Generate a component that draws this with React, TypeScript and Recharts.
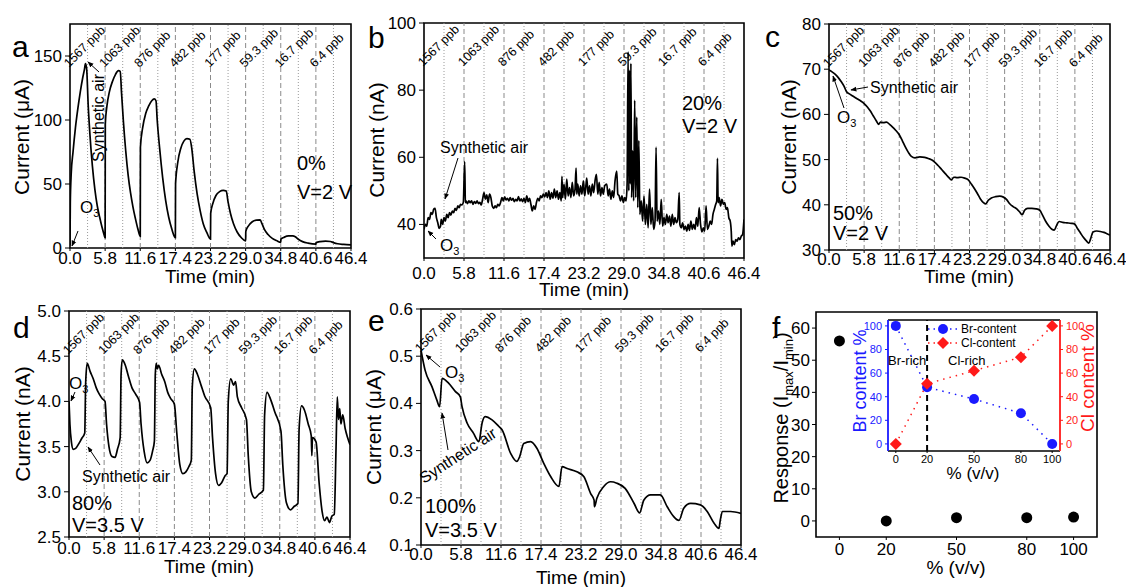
import React from 'react'
import {
  LineChart, Line, XAxis, YAxis, ReferenceLine, ReferenceArea,
  ScatterChart, Scatter,
} from 'recharts'

const FONT = '"Liberation Sans", Arial, sans-serif'

// time axis shared by panels a-e
const timeTicks = [0, 5.8, 11.6, 17.4, 23.2, 29.0, 34.8, 40.6, 46.4]
const ozoneOn = [0, 5.8, 11.6, 17.4, 23.2, 29.0, 34.8, 40.6]
const ozoneOff = [2.9, 8.7, 14.5, 20.3, 26.1, 31.9, 37.7, 43.5]
const ppbLabels = ['1567 ppb', '1063 ppb', '876 ppb', '482 ppb', '177 ppb', '59.3 ppb', '16.7 ppb', '6.4 ppb']

// panel a: 0 %, current in uA
const panelA: [number, number][] = [
  [0, 2], [0.05, 35], [0.2, 58], [0.5, 75], [0.9, 94], [1.3, 109], [1.7, 122], [2.1, 133], [2.4, 140], [2.55, 144], [2.75, 140],
  [3.0, 112], [3.3, 88], [3.7, 64], [4.1, 46], [4.5, 33], [4.9, 24], [5.3, 16], [5.65, 10], [5.8, 8],
  [5.83, 97], [6.1, 111], [6.5, 122], [7.0, 130], [7.5, 135.5], [8.0, 138.5], [8.3, 138], [8.5, 122], [8.8, 100], [9.2, 76],
  [9.6, 57], [10.0, 43], [10.4, 32], [10.8, 23], [11.2, 15], [11.6, 9],
  [11.63, 79], [12.0, 94], [12.5, 105], [13.0, 111], [13.5, 115], [13.9, 116.5], [14.2, 115], [14.4, 100], [14.8, 78],
  [15.3, 55], [15.8, 37], [16.3, 24], [16.8, 15], [17.4, 8],
  [17.43, 50], [17.8, 67], [18.3, 78], [18.8, 83.5], [19.3, 85.5], [19.8, 85], [20.1, 78], [20.5, 60], [21.0, 42],
  [21.5, 29], [22.0, 19], [22.6, 12], [23.2, 7],
  [23.23, 27], [23.6, 35], [24.1, 41], [24.7, 44], [25.3, 45], [25.8, 44.5], [26.1, 36], [26.5, 27], [27.0, 19],
  [27.6, 12.5], [28.3, 8], [29.0, 5.5],
  [29.03, 13], [29.5, 17.5], [30.1, 20.5], [30.8, 21.8], [31.4, 22], [31.7, 19], [32.1, 14.5], [32.7, 10.5], [33.4, 7.5],
  [34.1, 5.8], [34.8, 4.5],
  [34.83, 7], [35.4, 8.5], [36.1, 9.4], [36.8, 9.5], [37.2, 8.8], [37.7, 6.8], [38.4, 5], [39.3, 3.8], [40.6, 3],
  [40.63, 4.2], [41.3, 5], [42.2, 5.3], [43.0, 5.1], [43.5, 4.2], [44.2, 3.3], [45.2, 2.8], [46.4, 2.4],
]

// panel b: 20 %, current in nA (noisy)
const panelB: [number, number][] = [
  [0, 38.5], [0.2, 40], [0.4, 39.5], [0.6, 42], [0.8, 41.5], [1.0, 43.5], [1.2, 43], [1.4, 44.5], [1.6, 44.8], [1.8, 42],
  [2.0, 40.5], [2.2, 38.8], [2.4, 39.5], [2.5, 41.5], [2.7, 40], [2.9, 42], [3.1, 41], [3.3, 43], [3.5, 42], [3.7, 43.5],
  [3.9, 42.8], [4.1, 44], [4.3, 43.5], [4.5, 44.8], [4.7, 44.2], [4.9, 45.5], [5.1, 45], [5.3, 46], [5.5, 45.8], [5.7, 46.5],
  [5.9, 58.7], [6.0, 46.5], [6.1, 47], [6.3, 46.2], [6.5, 47], [6.7, 46.5], [6.9, 47], [7.1, 46], [7.3, 46.8], [7.5, 46.3],
  [7.7, 47], [7.9, 46.2], [8.1, 46.6], [8.3, 45.8], [8.5, 47.5], [8.7, 49.5], [8.9, 47.5], [9.1, 48.8], [9.3, 46.5], [9.5, 49],
  [9.7, 48], [9.9, 45.5], [10.1, 44.8], [10.3, 45.5], [10.5, 45], [10.7, 46], [10.9, 45.5], [11.1, 46.5], [11.3, 48], [11.5, 47],
  [11.7, 48.2], [11.9, 47.3], [12.1, 47.8], [12.3, 47], [12.5, 48], [12.7, 47.2], [12.9, 47.8], [13.1, 46.8], [13.3, 47.5],
  [13.5, 47], [13.7, 48.3], [13.9, 47], [14.1, 47.6], [14.3, 46.8], [14.5, 47.8], [14.7, 46.5], [14.9, 48.5], [15.1, 46.8],
  [15.3, 47.8], [15.5, 46], [15.7, 44], [15.9, 45.5], [16.1, 44.5], [16.3, 46.5], [16.5, 47.8], [16.7, 47], [16.9, 48.5],
  [17.1, 48], [17.3, 49], [17.5, 48.2], [17.7, 49.5], [17.9, 48], [18.1, 50], [18.3, 47.5], [18.5, 49.5], [18.7, 47.8],
  [18.9, 50.5], [19.1, 48], [19.3, 50], [19.5, 47.5], [19.7, 49.5], [19.9, 47], [20.0, 54.3], [20.1, 48], [20.3, 52],
  [20.5, 47.5], [20.7, 53.5], [20.9, 48.5], [21.1, 51], [21.3, 48], [21.5, 52.5], [21.7, 48.5], [21.9, 50.5], [22.05, 56.8],
  [22.15, 49], [22.3, 52], [22.5, 48.5], [22.7, 51.5], [22.9, 49], [23.1, 53], [23.3, 48.5], [23.5, 52], [23.6, 53.8],
  [23.8, 49], [24.0, 51.5], [24.2, 48.5], [24.4, 52], [24.6, 49.5], [24.8, 53], [25.0, 54.9], [25.2, 49], [25.4, 52.5],
  [25.6, 48.5], [25.8, 51], [26.0, 49], [26.2, 51.5], [26.5, 52], [26.7, 48.5], [26.9, 50.5], [27.1, 47.5], [27.3, 50],
  [27.5, 48], [27.7, 53], [27.95, 55.9], [28.1, 49], [28.3, 48.5], [28.5, 47], [28.7, 48.5], [28.9, 46.5], [29.1, 48],
  [29.3, 47], [29.45, 52], [29.6, 91.4], [29.7, 50], [29.8, 86], [29.9, 52], [30.0, 88], [30.1, 48], [30.25, 62],
  [30.4, 47], [30.55, 77], [30.7, 48], [30.85, 72], [31.0, 45], [31.15, 65], [31.3, 43], [31.5, 47], [31.7, 41],
  [31.9, 48.5], [32.1, 40], [32.3, 46], [32.5, 39], [32.7, 50.5], [32.9, 40], [33.1, 45], [33.3, 38.5], [33.5, 41],
  [33.65, 63], [33.8, 41], [34.0, 44], [34.2, 40], [34.4, 47.5], [34.6, 39.5], [34.8, 42], [35.0, 40], [35.2, 43],
  [35.4, 40.5], [35.6, 42.5], [35.8, 39.5], [36.0, 43], [36.2, 40], [36.4, 42], [36.6, 40.5], [36.8, 41.5], [37.0, 49.5],
  [37.1, 40], [37.3, 39], [37.5, 40.5], [37.7, 38.5], [37.9, 39.5], [38.1, 38], [38.3, 40], [38.5, 38.2], [38.7, 41],
  [38.9, 38.5], [39.1, 40], [39.3, 38.5], [39.5, 42], [39.7, 39.5], [39.9, 45], [40.1, 40], [40.3, 37.8], [40.5, 39],
  [40.7, 38], [40.9, 45.5], [41.1, 38.5], [41.3, 39.5], [41.5, 41], [41.7, 40], [41.9, 43], [42.1, 44.5], [42.3, 46],
  [42.45, 47], [42.55, 59.7], [42.65, 46.5], [42.8, 48], [43.0, 45.5], [43.2, 47.5], [43.4, 46], [43.6, 46.5], [43.8, 44.5],
  [44.0, 45], [44.2, 42], [44.4, 41], [44.55, 38], [44.65, 33.5], [44.8, 35], [45.0, 34], [45.2, 35.5], [45.4, 35],
  [45.6, 36], [45.8, 35.5], [46.0, 36.5], [46.2, 37], [46.4, 41.5],
]

// panel c: 50 %, current in nA
const panelC: [number, number][] = [
  [0, 69.8], [0.5, 69.4], [1.0, 68.9], [1.5, 68.2], [2.0, 67.3], [2.5, 66.2], [2.9, 65], [3.3, 64.6], [4.0, 64], [4.7, 63.4],
  [5.3, 62.9], [5.8, 62.4], [6.3, 61.7], [6.8, 60.8], [7.3, 59.7], [7.8, 58.6], [8.2, 57.8], [8.5, 58.3], [9.0, 58.2],
  [9.5, 58.3], [10.0, 57.8], [10.5, 57.2], [11.0, 56.5], [11.6, 55.5], [12.1, 54.2], [12.6, 52.8], [13.1, 51.6], [13.6, 50.7],
  [14.2, 50.4], [15.0, 50.6], [15.8, 50.5], [16.5, 50.2], [17.0, 49.9], [17.4, 49.5], [18.0, 48.7], [18.6, 47.8], [19.2, 46.9],
  [19.8, 46.0], [20.2, 45.5], [20.6, 46.1], [21.2, 46.0], [21.8, 46.1], [22.4, 45.9], [23.0, 45.5], [23.5, 44.6], [24.0, 43.6],
  [24.5, 42.5], [25.0, 41.3], [25.5, 40.5], [25.9, 40.2], [26.3, 41], [26.8, 41.5], [27.5, 41.8], [28.2, 41.9], [28.8, 41.7],
  [29.3, 41.2], [29.8, 40.3], [30.4, 39.6], [31.0, 39.1], [31.5, 38.4], [31.9, 37.8], [32.3, 38.8], [32.8, 39.2], [33.5, 39.2],
  [34.2, 39.1], [34.8, 38.8], [35.3, 37.6], [35.8, 36.3], [36.3, 35.3], [36.8, 34.6], [37.2, 34.4], [37.6, 35.5], [38.0, 36.3],
  [38.6, 36.1], [39.3, 36.0], [40.0, 35.9], [40.6, 35.7], [41.0, 34.8], [41.5, 33.8], [42.0, 32.8], [42.5, 32], [42.9, 31.5],
  [43.2, 32.5], [43.6, 34], [44.2, 34.2], [44.8, 34.1], [45.4, 33.9], [45.9, 33.6], [46.4, 33.3],
]

// panel d: 80 %, current in nA
const panelD: [number, number][] = [
  [0, 4.0], [0.15, 3.75], [0.4, 3.55], [0.7, 3.47], [1.1, 3.48], [1.6, 3.53], [2.1, 3.59], [2.6, 3.65], [2.75, 4.2], [3.0, 4.42],
  [3.5, 4.33], [4.0, 4.25], [4.5, 4.15], [5.0, 4.08], [5.5, 4.03], [5.95, 4.0], [6.2, 3.75], [6.6, 3.5], [7.1, 3.39],
  [7.6, 3.38], [8.0, 3.47], [8.45, 3.6], [8.6, 4.3], [8.8, 4.46], [9.3, 4.4], [9.8, 4.28], [10.4, 4.15], [11.0, 4.08],
  [11.65, 3.99], [11.9, 3.75], [12.4, 3.45], [12.9, 3.32], [13.4, 3.35], [13.8, 3.45], [14.1, 3.56], [14.25, 4.3],
  [14.4, 4.42], [14.6, 4.36], [14.8, 4.4], [15.3, 4.3], [15.8, 4.22], [16.3, 4.1], [16.8, 4.03], [17.4, 3.97], [17.8, 3.65],
  [18.3, 3.3], [18.8, 3.2], [19.3, 3.22], [19.8, 3.28], [20.2, 3.35], [20.35, 4.15], [20.7, 4.36], [21.2, 4.3], [21.8, 4.18],
  [22.4, 4.06], [23.4, 3.93], [23.7, 3.6], [24.2, 3.2], [24.7, 3.07], [25.2, 3.1], [25.8, 3.18], [26.1, 3.2], [26.3, 4.0],
  [26.7, 4.25], [27.2, 4.18], [27.5, 4.22], [27.8, 4.05], [28.5, 3.93], [29.3, 3.8], [29.6, 3.4], [30.1, 3.0], [30.7, 2.93],
  [31.3, 2.97], [32.1, 3.02], [32.3, 3.85], [32.7, 4.1], [33.3, 4.02], [34.0, 3.88], [35.0, 3.67], [35.3, 3.3], [35.9, 2.88],
  [36.6, 2.8], [37.2, 2.84], [37.8, 2.87], [38.0, 3.7], [38.4, 3.95], [38.9, 3.9], [39.5, 3.75], [40.0, 3.62], [40.1, 3.4],
  [40.2, 3.6], [40.8, 3.55], [41.3, 3.1], [41.8, 2.78], [42.2, 2.68], [42.6, 2.72], [43.0, 2.66], [43.4, 2.73], [43.8, 2.75],
  [44.1, 3.5], [44.3, 4.05], [44.5, 3.8], [44.7, 3.92], [44.9, 3.75], [45.2, 3.85], [45.6, 3.7], [46.0, 3.6], [46.4, 3.52],
]

// panel e: 100 %, current in uA
const panelE: [number, number][] = [
  [0, 0.513], [0.6, 0.47], [1.6, 0.435], [2.3, 0.407], [2.7, 0.393], [3.05, 0.453], [4.0, 0.443], [5.0, 0.425], [5.7, 0.414],
  [5.95, 0.393], [6.7, 0.358], [7.6, 0.337], [8.4, 0.319], [8.85, 0.358], [9.3, 0.372], [10.3, 0.365], [11.3, 0.351],
  [11.75, 0.344], [13.0, 0.294], [13.9, 0.277], [14.3, 0.287], [14.9, 0.315], [15.9, 0.319], [16.8, 0.305], [17.8, 0.273],
  [18.8, 0.245], [20.0, 0.224], [20.45, 0.266], [21.2, 0.262], [22.6, 0.255], [23.6, 0.245], [24.6, 0.209], [25.1, 0.195],
  [25.15, 0.181], [25.5, 0.199], [26.5, 0.224], [27.5, 0.234], [28.4, 0.231], [29.6, 0.22], [30.9, 0.188], [31.7, 0.168],
  [32.3, 0.195], [33.3, 0.206], [34.7, 0.206], [35.7, 0.181], [36.65, 0.16], [37.4, 0.152], [38.1, 0.178], [39.1, 0.188],
  [40.5, 0.185], [41.5, 0.171], [42.5, 0.146], [43.2, 0.135], [43.4, 0.153], [43.7, 0.171], [44.9, 0.171], [46.4, 0.167],
]

const aTicks = [0, 50, 100, 150]
const bTicks = [40, 60, 80, 100]
const cTicks = [30, 40, 50, 60, 70, 80]
const dTicks = [2.5, 3.0, 3.5, 4.0, 4.5, 5.0]
const eTicks = [0.1, 0.2, 0.3, 0.4, 0.5, 0.6]

// panel f
const fCategories = ['0', '20', '50', '80', '100']
const fSlots = [0, 1, 2.5, 4, 5]
const fResponse = [56, 0, 1, 1, 1.2]
const fTicks = [0, 10, 20, 30, 40, 50, 60]

// inset of f
const insetX = [0, 20, 50, 80, 100]
const brContent = [100, 48, 38, 26, 0]
const clContent = [0, 51, 62, 73.5, 100]
const insetTicks = [0, 20, 40, 60, 80, 100]

const tickStyle = { fontSize: 17, fill: '#000', fontFamily: FONT }
const TOP = 10
const T_MAX = 46.4

// plot boxes of panels a-e (page pixels)
const timeBoxes = [
  { left: 70, top: 24, w: 281, h: 224 },
  { left: 424, top: 23, w: 320, h: 235 },
  { left: 829, top: 24, w: 281, h: 226 },
  { left: 69, top: 311, w: 281, h: 226 },
  { left: 421, top: 309, w: 320, h: 236 },
]

interface TimePanelProps {
  points: [number, number][]
  box: { left: number; top: number; w: number; h: number }
  yDomain: [number, number]
  yTicks: number[]
  digits: number
  xGap: number
}

function TimePanel({ points, box, yDomain, yTicks, digits, xGap }: TimePanelProps) {
  const { left, top, w, h } = box
  const data = points.map(([t, v]) => ({ t, v }))
  return (
    <div style={{ position: 'absolute', left: left - 60, top: top - TOP }}>
      <LineChart width={w + 85} height={h + 50} data={data} margin={{ top: TOP, right: 25, bottom: 0, left: 0 }}>
        <XAxis
          type="number" dataKey="t" domain={[0, T_MAX]} ticks={timeTicks} interval={0} allowDataOverflow
          tickFormatter={(v: number) => v.toFixed(1)} tick={tickStyle} tickSize={3} tickMargin={Math.max(xGap - 3, 0)}
          axisLine={false} height={40} tickLine={{ stroke: '#000' }}
        />
        <YAxis
          type="number" domain={yDomain} ticks={yTicks} interval={0} allowDataOverflow width={60}
          tickFormatter={(v: number) => v.toFixed(digits)} tick={tickStyle} tickSize={5} tickMargin={3}
          axisLine={false} tickLine={{ stroke: '#000' }}
        />
        <YAxis
          yAxisId="mirror" orientation="right" mirror type="number" domain={yDomain} ticks={yTicks} interval={0}
          allowDataOverflow width={0} tickSize={5} tickFormatter={() => ''} axisLine={false} tickLine={{ stroke: '#000' }}
        />
        {ozoneOff.map((m) => (
          <ReferenceLine key={`off-${m}`} x={m} stroke="#9a9a9a" strokeDasharray="1 2" strokeWidth={1} />
        ))}
        {ozoneOn.filter((m) => m > 0).map((m) => (
          <ReferenceLine key={`on-${m}`} x={m} stroke="#8a8a8a" strokeDasharray="5 3" strokeWidth={1} />
        ))}
        <Line type="monotoneX" dataKey="v" stroke="#000" strokeWidth={1.7} dot={false} isAnimationActive={false} />
        <ReferenceArea x1={0} x2={T_MAX} y1={yDomain[0]} y2={yDomain[1]} fill="none" stroke="#000" strokeWidth={1.6} ifOverflow="visible" />
      </LineChart>
    </div>
  )
}

function PanelF() {
  const data = fSlots.map((pos, i) => ({ pos, r: fResponse[i] }))
  return (
    <div style={{ position: 'absolute', left: 816 - 60, top: 312 - TOP }}>
      <ScatterChart width={281 + 80} height={225 + 50} margin={{ top: TOP, right: 20, bottom: 0, left: 0 }}>
        <XAxis
          type="number" dataKey="pos" domain={[-0.5, 5.5]} ticks={fSlots} interval={0} allowDataOverflow
          tickFormatter={(v: number) => fCategories[fSlots.indexOf(v)] ?? ''} tick={tickStyle}
          tickSize={3} tickMargin={3} axisLine={false} height={40} tickLine={{ stroke: '#000' }}
        />
        <YAxis
          type="number" dataKey="r" domain={[-5, 65]} ticks={fTicks} interval={0} allowDataOverflow width={60}
          tick={tickStyle} tickSize={4} tickMargin={2} axisLine={false} tickLine={{ stroke: '#000' }}
        />
        <YAxis
          yAxisId="mirror" orientation="right" mirror type="number" domain={[-5, 65]} ticks={fTicks} interval={0}
          allowDataOverflow width={0} tickSize={5} tickFormatter={() => ''} axisLine={false} tickLine={{ stroke: '#000' }}
        />
        <Scatter data={data} fill="#000" isAnimationActive={false}
          shape={(p: any) => <circle cx={p.cx} cy={p.cy} r={5.5} fill="#000" />} />
        <ReferenceArea x1={-0.5} x2={5.5} y1={-5} y2={65} fill="none" stroke="#000" strokeWidth={1.6} ifOverflow="visible" />
      </ScatterChart>
    </div>
  )
}

function Diamond(props: any) {
  const { cx, cy, index } = props
  if (cx == null || cy == null) return <g key={index} />
  const s = 6
  return <path key={index} d={`M${cx},${cy - s} L${cx + s},${cy} L${cx},${cy + s} L${cx - s},${cy} Z`} fill="#ff1a1a" />
}

function Inset() {
  const data = insetX.map((x, i) => ({ x, br: brContent[i], cl: clContent[i] }))
  const small = { fontSize: 11, fontFamily: FONT }
  return (
    <div style={{ position: 'absolute', left: 888 - 30, top: 320 - 6 }}>
      <LineChart width={232} height={157} data={data} margin={{ top: 6, right: 0, bottom: 0, left: 0 }}>
        <XAxis
          type="number" dataKey="x" domain={[-5, 105]} ticks={insetX} interval={0} allowDataOverflow height={20}
          tick={{ ...small, fill: '#000' }} tickSize={2} tickMargin={2}
          axisLine={{ stroke: '#000', strokeWidth: 1.5 }} tickLine={{ stroke: '#000' }}
        />
        <YAxis
          yAxisId="br" type="number" domain={[-6, 105]} ticks={insetTicks} interval={0} allowDataOverflow width={30}
          tick={{ ...small, fill: '#1a1aff' }} tickSize={3} tickMargin={3}
          axisLine={{ stroke: '#1a1aff', strokeWidth: 1.8 }} tickLine={{ stroke: '#1a1aff' }}
        />
        <YAxis
          yAxisId="cl" orientation="right" type="number" domain={[-6, 105]} ticks={insetTicks} interval={0}
          allowDataOverflow width={30} tick={{ ...small, fill: '#ff1a1a' }} tickSize={3} tickMargin={3}
          axisLine={{ stroke: '#ff1a1a', strokeWidth: 1.8 }} tickLine={{ stroke: '#ff1a1a' }}
        />
        <ReferenceLine yAxisId="br" y={105} stroke="#000" strokeWidth={1.5} ifOverflow="visible" />
        <ReferenceLine yAxisId="br" x={20} stroke="#000" strokeWidth={2} strokeDasharray="6 4" />
        <Line yAxisId="br" type="linear" dataKey="br" stroke="#1a1aff" strokeWidth={1.5} strokeDasharray="1.5 5"
          dot={{ r: 5, fill: '#1a1aff', stroke: 'none' }} isAnimationActive={false} />
        <Line yAxisId="cl" type="linear" dataKey="cl" stroke="#ff1a1a" strokeWidth={1.5} strokeDasharray="1.5 5"
          dot={Diamond} isAnimationActive={false} />
      </LineChart>
    </div>
  )
}

function O3({ x, y }: { x: number; y: number }) {
  return (
    <text x={x} y={y} fontSize={17} fontFamily={FONT}>
      O<tspan fontSize={11} dy={4}>3</tspan>
    </text>
  )
}

function Arrow({ x1, y1, x2, y2 }: { x1: number; y1: number; x2: number; y2: number }) {
  return <line x1={x1} y1={y1} x2={x2} y2={y2} stroke="#000" strokeWidth={1} markerEnd="url(#arrowHead)" />
}

function YTitle({ x, y, children, size = 21, color = '#000' }: any) {
  return (
    <text x={x} y={y} transform={`rotate(-90 ${x} ${y})`} textAnchor="middle" fontSize={size} fontFamily={FONT} fill={color}>
      {children}
    </text>
  )
}

function XTitle({ x, y, children, size = 19 }: any) {
  return (
    <text x={x} y={y} textAnchor="middle" fontSize={size} fontFamily={FONT} fill="#000">
      {children}
    </text>
  )
}

// concentration labels written at 45 degrees above each ozone pulse
function PpbLabels() {
  return (
    <g>
      {timeBoxes.map((b, p) =>
        ozoneOn.map((t, i) => {
          const x = b.left + (t / T_MAX) * b.w - 1
          const y = b.top + 44
          return (
            <text key={`${p}-${i}`} x={x} y={y} transform={`rotate(-45 ${x} ${y})`} fontSize={12.5} fontFamily={FONT} fill="#000">
              {ppbLabels[i]}
            </text>
          )
        })
      )}
    </g>
  )
}

function Overlay() {
  const letter = { fontSize: 30, fontFamily: FONT, fill: '#000' }
  const note = { fontSize: 16, fontFamily: FONT, fill: '#000' }
  const big = { fontSize: 20, fontFamily: FONT, fill: '#000' }
  return (
    <svg width={1126} height={587} style={{ position: 'absolute', left: 0, top: 0, pointerEvents: 'none' }}>
      <defs>
        <marker id="arrowHead" viewBox="0 0 10 10" refX="9" refY="5" markerWidth="6" markerHeight="6" orient="auto">
          <path d="M0,1 L10,5 L0,9 z" fill="#000" />
        </marker>
      </defs>

      <PpbLabels />

      <text x={12} y={57} {...letter}>a</text>
      <text x={368} y={48} {...letter}>b</text>
      <text x={765} y={47} {...letter}>c</text>
      <text x={13} y={338} {...letter}>d</text>
      <text x={368} y={331} {...letter}>e</text>
      <text x={772} y={338} {...letter}>f</text>

      <YTitle x={29} y={137}>Current (μA)</YTitle>
      <YTitle x={384} y={140}>Current (nA)</YTitle>
      <YTitle x={796} y={137}>Current (nA)</YTitle>
      <YTitle x={30} y={424}>Current (nA)</YTitle>
      <YTitle x={381} y={427}>Current (μA)</YTitle>
      <text x={788} y={418} transform="rotate(-90 788 418)" textAnchor="middle" fontSize={20} fontFamily={FONT}>
        Response (I<tspan fontSize={13} dy={5}>max</tspan><tspan dy={-5}>/I</tspan><tspan fontSize={13} dy={5}>min</tspan><tspan dy={-5}>)</tspan>
      </text>

      <XTitle x={210} y={283}>Time (min)</XTitle>
      <XTitle x={584} y={296}>Time (min)</XTitle>
      <XTitle x={969} y={283}>Time (min)</XTitle>
      <XTitle x={209} y={573}>Time (min)</XTitle>
      <XTitle x={581} y={584}>Time (min)</XTitle>
      <XTitle x={956} y={574}>% (v/v)</XTitle>

      {/* panel a notes */}
      <O3 x={80} y={213} />
      <Arrow x1={78} y1={231} x2={72} y2={246} />
      <text x={104} y={118} transform="rotate(-90 104 118)" textAnchor="middle" {...note}>Synthetic air</text>
      <Arrow x1={99} y1={72} x2={88} y2={62} />
      <text x={297} y={170} {...big}>0%</text>
      <text x={297} y={199} {...big}>V=2 V</text>

      {/* panel b notes */}
      <text x={440} y={153} {...note}>Synthetic air</text>
      <Arrow x1={458} y1={158} x2={445} y2={199} />
      <O3 x={440} y={251} />
      <Arrow x1={436} y1={239} x2={428} y2={231} />
      <text x={682} y={110} {...big}>20%</text>
      <text x={682} y={133} {...big}>V=2 V</text>

      {/* panel c notes */}
      <text x={870} y={93} {...note}>Synthetic air</text>
      <Arrow x1={868} y1={87} x2={851} y2={90} />
      <O3 x={837} y={123} />
      <Arrow x1={844} y1={108} x2={833} y2={76} />
      <text x={833} y={220} {...big}>50%</text>
      <text x={833} y={240} {...big}>V=2 V</text>

      {/* panel d notes */}
      <O3 x={69} y={389} />
      <Arrow x1={75} y1={392} x2={71} y2={401} />
      <text x={82} y={482} {...note}>Synthetic air</text>
      <Arrow x1={100} y1={465} x2={88} y2={447} />
      <text x={72} y={510} {...big}>80%</text>
      <text x={72} y={532} {...big}>V=3.5 V</text>

      {/* panel e notes */}
      <O3 x={445} y={378} />
      <Arrow x1={440} y1={367} x2={426} y2={355} />
      <text x={424} y={484} transform="rotate(-33 424 484)" {...note}>Synthetic air</text>
      <Arrow x1={448} y1={450} x2={442} y2={413} />
      <text x={425} y={513} {...big}>100%</text>
      <text x={425} y={537} {...big}>V=3.5 V</text>

      {/* inset of f: titles, legend, regions */}
      <YTitle x={866} y={381} size={18} color="#1a1aff">Br content %</YTitle>
      <YTitle x={1094} y={378} size={19} color="#ff1a1a">Cl content %</YTitle>
      <XTitle x={973} y={479} size={17}>% (v/v)</XTitle>
      <line x1={928} y1={329} x2={958} y2={329} stroke="#1a1aff" strokeWidth={1.5} strokeDasharray="1.5 4" />
      <circle cx={943} cy={329} r={5} fill="#1a1aff" />
      <text x={961} y={333} fontSize={12} fontFamily={FONT}>Br-content</text>
      <line x1={928} y1={343} x2={958} y2={343} stroke="#ff1a1a" strokeWidth={1.5} strokeDasharray="1.5 4" />
      <path d="M943,337 L949,343 L943,349 L937,343 Z" fill="#ff1a1a" />
      <text x={961} y={347} fontSize={12} fontFamily={FONT}>Cl-content</text>
      <text x={888} y={365} fontSize={13} fontFamily={FONT}>Br-rich</text>
      <text x={948} y={365} fontSize={13} fontFamily={FONT}>Cl-rich</text>
    </svg>
  )
}

export default function App() {
  return (
    <div style={{ position: 'absolute', left: 0, top: 0, width: 1126, height: 587, background: '#fff', fontFamily: FONT }}>
      <TimePanel points={panelA} box={timeBoxes[0]} yDomain={[0, 175]} yTicks={aTicks} digits={0} xGap={4} />
      <TimePanel points={panelB} box={timeBoxes[1]} yDomain={[30, 100]} yTicks={bTicks} digits={0} xGap={9} />
      <TimePanel points={panelC} box={timeBoxes[2]} yDomain={[30, 80]} yTicks={cTicks} digits={0} xGap={3} />
      <TimePanel points={panelD} box={timeBoxes[3]} yDomain={[2.5, 5]} yTicks={dTicks} digits={1} xGap={5} />
      <TimePanel points={panelE} box={timeBoxes[4]} yDomain={[0.1, 0.6]} yTicks={eTicks} digits={1} xGap={3} />
      <PanelF />
      <Inset />
      <Overlay />
    </div>
  )
}
